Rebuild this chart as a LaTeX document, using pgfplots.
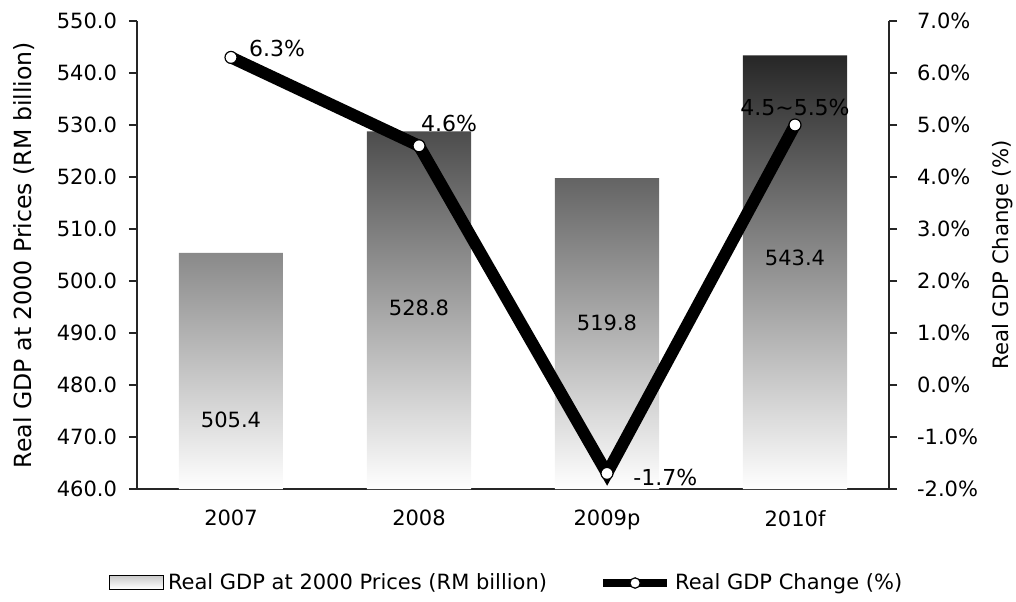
\documentclass[border=0pt]{standalone}
\usepackage{pgfplots}
\pgfplotsset{compat=1.18}
\usepackage{pgfplotstable}
\usepackage{fontspec}
\setmainfont{DejaVu Sans}

\pgfplotstableread{
x gdp
0 505.4
1 528.8
2 519.8
3 543.4
}\gdptable
\pgfplotstableread{
x chg
0 6.3
1 4.6
2 -1.7
3 5.0
}\chgtable

\begin{document}
\begin{tikzpicture}
\useasboundingbox (-68.5pt,-56pt) rectangle (439.5pt,244.5pt);
\pgfplotsset{
  common/.style={
    scale only axis, width=376pt, height=234pt,
    xmin=-0.5, xmax=3.5,
    axis line style={-, line width=0.8pt, black!85},
    tick style={line width=0.8pt, black!85},
    tick align=outside,
    major tick length=4pt,
    /pgf/number format/assume math mode=true,
    ticklabel style={font=\fontsize{10.5}{12}\selectfont},
  }
}
\begin{axis}[
  common,
  axis x line*=bottom, axis y line*=left,
  ymin=460, ymax=550,
  y coord trafo/.code={\pgfmathparse{#1-460}},
  y coord inv trafo/.code={\pgfmathparse{#1+460}},
  ytick={460,470,480,490,500,510,520,530,540,550},
  yticklabels={460.0,470.0,480.0,490.0,500.0,510.0,520.0,530.0,540.0,550.0},
  yticklabel style={xshift=-2.5pt},
  xtick=data,
  xticklabels={2007,2008,2009p,2010f},
  x tick style={draw=none},
  xticklabel style={yshift=-3pt},
  ylabel={Real GDP at 2000 Prices (RM billion)},
  ylabel style={font=\fontsize{11.8}{13}\selectfont, at={(axis description cs:-0.1649,0.5)},
    anchor=north, inner sep=0pt},
  clip=false,
]
\addplot[ybar, bar width=52pt, draw=none, top color=black!85, middle color=black!48, bottom color=white]
  table[x=x, y=gdp]{\gdptable};
\node[font=\fontsize{10.5}{12}\selectfont] at (axis cs:0,473.3) {505.4};
\node[font=\fontsize{10.5}{12}\selectfont] at (axis cs:1,494.8) {528.8};
\node[font=\fontsize{10.5}{12}\selectfont] at (axis cs:2,491.9) {519.8};
\node[font=\fontsize{10.5}{12}\selectfont] at (axis cs:3,504.4) {543.4};
\end{axis}
\begin{axis}[
  common,
  axis x line=none, axis y line*=right,
  ymin=-2, ymax=7,
  ytick={-2,-1,0,1,2,3,4,5,6,7},
  yticklabels={-2.0\%,-1.0\%,0.0\%,1.0\%,2.0\%,3.0\%,4.0\%,5.0\%,6.0\%,7.0\%},
  yticklabel style={xshift=6.5pt},
  ylabel={Real GDP Change (\%)},
  ylabel style={font=\fontsize{10.6}{12}\selectfont, at={(axis description cs:1.137,0.5)},
    anchor=north, inner sep=0pt},
  legend columns=2,
  legend style={at={(0.493,-0.2009)}, anchor=center, draw=none, fill=none,
    font=\fontsize{10.5}{12}\selectfont,
    /tikz/every even column/.append style={column sep=24pt}},
  legend cell align=left,
  clip=false,
]
\addlegendimage{legend image code/.code={\fill[top color=black!22, bottom color=white] (0pt,-3pt) rectangle (27pt,4pt);}}
\addlegendentry{Real GDP at 2000 Prices (RM billion)}
\addlegendimage{legend image code/.code={\draw[line width=4pt, black] (0pt,0pt) -- (32pt,0pt); \draw[fill=white, draw=black, line width=0.6pt] (16pt,0pt) circle (2.6pt);}}
\addlegendentry{Real GDP Change (\%)}
\addplot[forget plot, line width=6pt, black, mark=*, mark size=3pt,
  mark options={fill=white, draw=black, line width=0.6pt}]
  table[x=x, y=chg]{\chgtable};
\node[font=\fontsize{11}{12}\selectfont] at (axis cs:0.245,6.48) {6.3\%};
\node[font=\fontsize{11}{12}\selectfont] at (axis cs:1.16,5.02) {4.6\%};
\node[font=\fontsize{11}{12}\selectfont] at (axis cs:2.31,-1.77) {-1.7\%};
\node[font=\fontsize{11}{12}\selectfont] at (axis cs:3.0,5.33) {4.5\textasciitilde5.5\%};
\end{axis}
\end{tikzpicture}
\end{document}
